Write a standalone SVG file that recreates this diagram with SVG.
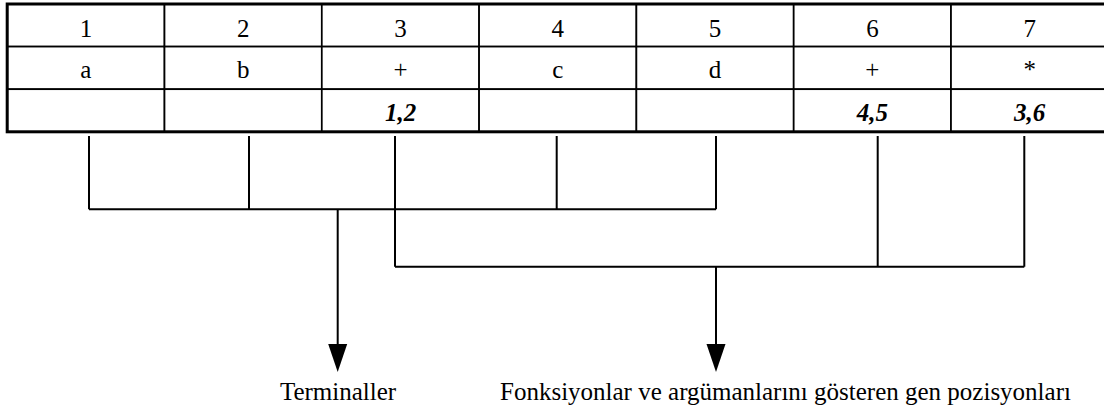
<svg xmlns="http://www.w3.org/2000/svg" width="1104" height="408" viewBox="0 0 1104 408">
  <style>
    .cell { fill: #ffffff; stroke: #000000; stroke-width: 1.7; }
    .bi { font-weight: bold; font-style: italic; }
    .wire { fill: none; stroke: #000000; stroke-width: 2; }
    .frame { fill: none; stroke: #000000; stroke-width: 3; }
  </style>
  <defs>
    <marker id="arrow" markerUnits="userSpaceOnUse" markerWidth="30" markerHeight="22" viewBox="0 -11 30 22" refX="0" refY="0" orient="auto">
      <path d="M0,-9.5 L28,0 L0,9.5 Z" fill="#000000"/>
    </marker>
  </defs>
  <rect width="1104" height="408" fill="#ffffff"/>

  <g id="table" font-family="'Liberation Serif', 'Times New Roman', serif" font-size="25" text-anchor="middle" fill="#000000">
    <g id="col1">
      <rect class="cell" x="7.2" y="4" width="157.3" height="42.6"/>
      <rect class="cell" x="7.2" y="46.6" width="157.3" height="42.6"/>
      <rect class="cell" x="7.2" y="89.2" width="157.3" height="42.6"/>
      <text x="85.9" y="37">1</text>
      <text x="85.9" y="78">a</text>
    </g>
    <g id="col2">
      <rect class="cell" x="164.5" y="4" width="157.3" height="42.6"/>
      <rect class="cell" x="164.5" y="46.6" width="157.3" height="42.6"/>
      <rect class="cell" x="164.5" y="89.2" width="157.3" height="42.6"/>
      <text x="243.2" y="37">2</text>
      <text x="243.2" y="78">b</text>
    </g>
    <g id="col3">
      <rect class="cell" x="321.8" y="4" width="157.3" height="42.6"/>
      <rect class="cell" x="321.8" y="46.6" width="157.3" height="42.6"/>
      <rect class="cell" x="321.8" y="89.2" width="157.3" height="42.6"/>
      <text x="400.5" y="37">3</text>
      <text x="400.5" y="78">+</text>
      <text class="bi" x="400.5" y="121">1,2</text>
    </g>
    <g id="col4">
      <rect class="cell" x="479.1" y="4" width="157.3" height="42.6"/>
      <rect class="cell" x="479.1" y="46.6" width="157.3" height="42.6"/>
      <rect class="cell" x="479.1" y="89.2" width="157.3" height="42.6"/>
      <text x="557.8" y="37">4</text>
      <text x="557.8" y="78">c</text>
    </g>
    <g id="col5">
      <rect class="cell" x="636.4" y="4" width="157.3" height="42.6"/>
      <rect class="cell" x="636.4" y="46.6" width="157.3" height="42.6"/>
      <rect class="cell" x="636.4" y="89.2" width="157.3" height="42.6"/>
      <text x="715.1" y="37">5</text>
      <text x="715.1" y="78">d</text>
    </g>
    <g id="col6">
      <rect class="cell" x="793.7" y="4" width="157.3" height="42.6"/>
      <rect class="cell" x="793.7" y="46.6" width="157.3" height="42.6"/>
      <rect class="cell" x="793.7" y="89.2" width="157.3" height="42.6"/>
      <text x="872.4" y="37">6</text>
      <text x="872.4" y="78">+</text>
      <text class="bi" x="872.4" y="121">4,5</text>
    </g>
    <g id="col7">
      <rect class="cell" x="951" y="4" width="157.3" height="42.6"/>
      <rect class="cell" x="951" y="46.6" width="157.3" height="42.6"/>
      <rect class="cell" x="951" y="89.2" width="157.3" height="42.6"/>
      <text x="1029.7" y="37">7</text>
      <text x="1029.7" y="78">*</text>
      <text class="bi" x="1029.7" y="121">3,6</text>
    </g>
    <rect id="table-frame" class="frame" x="7.2" y="4" width="1101.1" height="127.8"/>
  </g>

  <g id="connectors">
    <path class="wire" d="M89,136 V209.3 M249,136 V209.3 M556.7,136 V209.3 M716,136 V209.3 M89,209.3 H716"/>
    <path class="wire" d="M395,136 V266.7 M877.7,136 V266.7 M1024.3,136 V266.7 M395,266.7 H1024.3"/>
    <path class="wire" d="M337.7,209.3 V344" marker-end="url(#arrow)"/>
    <path class="wire" d="M716,266.7 V344" marker-end="url(#arrow)"/>
  </g>

  <g font-family="'Liberation Serif', 'Times New Roman', serif" font-size="25" fill="#000000">
    <g id="label-terminals">
      <text x="338" y="400" text-anchor="middle">Terminaller</text>
    </g>
    <g id="label-functions">
      <text x="500" y="400">Fonksiyonlar ve argümanlarını gösteren gen pozisyonları</text>
    </g>
  </g>
</svg>
